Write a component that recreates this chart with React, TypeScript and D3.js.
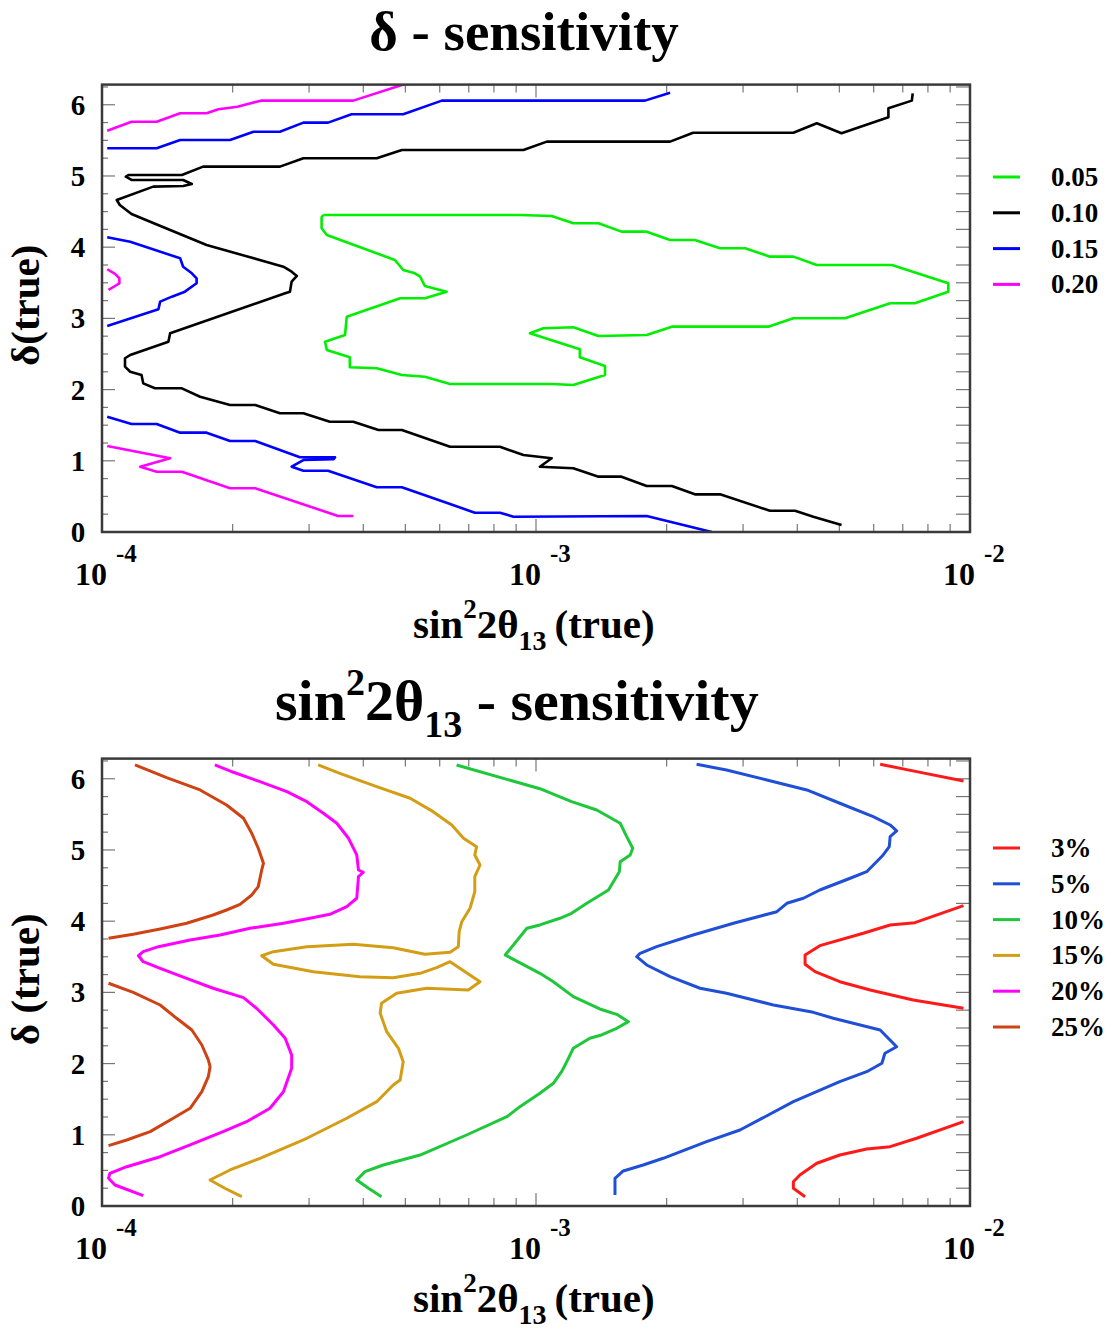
import React from "react";
import * as d3 from "d3";

// ---------- data: points are [log10(sin^2 2θ13), δ] ----------
// top panel: δ-sensitivity contours
const topLevels = ["0.05", "0.10", "0.15", "0.20"];
const topColors = ["#00ee00", "#000000", "#0000ff", "#ff00ff"];

const d005: [number, number][] = [
  [-3.490, 4.452], [-3.037, 4.452], [-2.964, 4.438], [-2.914, 4.336], [-2.856, 4.336], [-2.803, 4.218],
  [-2.745, 4.218], [-2.691, 4.101], [-2.634, 4.101], [-2.576, 3.985], [-2.518, 3.985], [-2.461, 3.867],
  [-2.407, 3.867], [-2.353, 3.750], [-2.180, 3.750], [-2.050, 3.493], [-2.050, 3.375], [-2.127, 3.212],
  [-2.184, 3.212], [-2.288, 3.001], [-2.407, 3.001], [-2.465, 2.884], [-2.687, 2.884], [-2.745, 2.767],
  [-2.856, 2.753], [-2.914, 2.875], [-2.983, 2.861], [-3.014, 2.791], [-2.899, 2.566], [-2.899, 2.453],
  [-2.841, 2.331], [-2.841, 2.205], [-2.914, 2.065], [-2.964, 2.079], [-3.198, 2.079], [-3.256, 2.181],
  [-3.309, 2.205], [-3.367, 2.299], [-3.429, 2.313], [-3.429, 2.453], [-3.482, 2.556], [-3.486, 2.673],
  [-3.440, 2.767], [-3.436, 3.024], [-3.313, 3.282], [-3.256, 3.282], [-3.206, 3.375], [-3.256, 3.455],
  [-3.267, 3.586], [-3.279, 3.633], [-3.306, 3.680], [-3.325, 3.820], [-3.482, 4.171], [-3.494, 4.265],
  [-3.494, 4.420], [-3.490, 4.452],
];

const d010: [number, number][] = [
  [-2.132, 6.161], [-2.134, 6.058], [-2.188, 5.951], [-2.188, 5.824], [-2.296, 5.600], [-2.353, 5.740],
  [-2.407, 5.608], [-2.638, 5.608], [-2.691, 5.482], [-2.975, 5.482], [-3.029, 5.365], [-3.309, 5.365],
  [-3.367, 5.249], [-3.536, 5.249], [-3.590, 5.131], [-3.767, 5.131], [-3.816, 5.014], [-3.939, 5.014],
  [-3.945, 4.990], [-3.932, 4.944], [-3.813, 4.944], [-3.793, 4.888], [-3.813, 4.860], [-3.882, 4.850],
  [-3.966, 4.663], [-3.959, 4.593], [-3.932, 4.466], [-3.889, 4.358], [-3.759, 4.031], [-3.582, 3.726],
  [-3.563, 3.656], [-3.551, 3.596], [-3.563, 3.516], [-3.567, 3.375], [-3.578, 3.352], [-3.843, 2.791],
  [-3.847, 2.673], [-3.935, 2.486], [-3.947, 2.440], [-3.947, 2.322], [-3.935, 2.251], [-3.909, 2.205],
  [-3.905, 2.088], [-3.878, 2.018], [-3.816, 2.018], [-3.774, 1.900], [-3.705, 1.784], [-3.647, 1.784],
  [-3.590, 1.667], [-3.536, 1.667], [-3.475, 1.549], [-3.421, 1.549], [-3.363, 1.433], [-3.309, 1.433],
  [-3.198, 1.198], [-3.083, 1.198], [-3.029, 1.081], [-2.964, 1.035], [-2.991, 0.917], [-2.914, 0.895],
  [-2.856, 0.777], [-2.803, 0.777], [-2.745, 0.646], [-2.687, 0.646], [-2.634, 0.529], [-2.576, 0.529],
  [-2.461, 0.299], [-2.403, 0.299], [-2.361, 0.215], [-2.296, 0.098],
];

const d015Top: [number, number][] = [
  [-3.988, 5.389], [-3.874, 5.389], [-3.820, 5.506], [-3.705, 5.506], [-3.651, 5.622], [-3.590, 5.622],
  [-3.536, 5.749], [-3.479, 5.749], [-3.425, 5.866], [-3.306, 5.866], [-3.217, 6.058], [-2.749, 6.058],
  [-2.691, 6.170],
];
const d015Mid: [number, number][] = [
  [-3.988, 4.139], [-3.935, 4.077], [-3.820, 3.844], [-3.813, 3.726], [-3.793, 3.633], [-3.782, 3.563],
  [-3.782, 3.493], [-3.809, 3.375], [-3.839, 3.305], [-3.866, 3.235], [-3.870, 3.128], [-3.988, 2.893],
];
const d015Bot: [number, number][] = [
  [-3.988, 1.619], [-3.932, 1.517], [-3.874, 1.517], [-3.820, 1.395], [-3.759, 1.395], [-3.705, 1.278],
  [-3.647, 1.278], [-3.544, 1.049], [-3.463, 1.049], [-3.467, 1.021], [-3.536, 1.011], [-3.563, 0.917],
  [-3.536, 0.861], [-3.479, 0.861], [-3.367, 0.628], [-3.309, 0.628], [-3.198, 0.393], [-3.141, 0.271],
  [-3.083, 0.271], [-3.052, 0.215], [-2.745, 0.225], [-2.595, 0.0],
];

const d020Top: [number, number][] = [
  [-3.988, 5.636], [-3.932, 5.762], [-3.874, 5.762], [-3.820, 5.881], [-3.759, 5.881], [-3.732, 5.937],
  [-3.688, 5.973], [-3.634, 6.058], [-3.421, 6.058], [-3.302, 6.292],
];
const d020Mid: [number, number][] = [
  [-3.988, 3.690], [-3.970, 3.624], [-3.960, 3.563], [-3.960, 3.493], [-3.970, 3.455], [-3.985, 3.399],
];
const d020Bot: [number, number][] = [
  [-3.988, 1.208], [-3.843, 1.035], [-3.912, 0.917], [-3.874, 0.847], [-3.816, 0.847], [-3.705, 0.614],
  [-3.647, 0.614], [-3.456, 0.225], [-3.421, 0.225],
];

// bottom panel: sin^2 2θ13-sensitivity contours
const botLevels = ["3%", "5%", "10%", "15%", "20%", "25%"];
const botColors = ["#ff1a1a", "#1f4fd6", "#1fc73a", "#d39e16", "#ff00ff", "#cf4214"];

const s3Top: [number, number][] = [[-2.207, 6.204], [-2.123, 6.100], [-2.015, 5.969]];
const s3Mid: [number, number][] = [
  [-2.015, 4.218], [-2.127, 3.979], [-2.184, 3.947], [-2.246, 3.830], [-2.346, 3.656], [-2.380, 3.525],
  [-2.380, 3.395], [-2.357, 3.291], [-2.300, 3.150], [-2.230, 3.034], [-2.131, 2.893], [-2.015, 2.777],
];
const s3Bot: [number, number][] = [
  [-2.015, 1.184], [-2.123, 0.951], [-2.184, 0.833], [-2.238, 0.801], [-2.300, 0.716], [-2.353, 0.600],
  [-2.392, 0.435], [-2.407, 0.341], [-2.407, 0.249], [-2.380, 0.131],
];
const s5: [number, number][] = [
  [-2.630, 6.204], [-2.561, 6.124], [-2.468, 5.983], [-2.376, 5.843], [-2.300, 5.656], [-2.223, 5.468],
  [-2.184, 5.351], [-2.169, 5.267], [-2.184, 5.187], [-2.186, 5.046], [-2.200, 4.930], [-2.238, 4.695],
  [-2.276, 4.603], [-2.346, 4.438], [-2.384, 4.322], [-2.422, 4.251], [-2.445, 4.133], [-2.545, 3.971],
  [-2.638, 3.806], [-2.722, 3.642], [-2.760, 3.549], [-2.768, 3.501], [-2.745, 3.385], [-2.691, 3.221],
  [-2.622, 3.058], [-2.561, 2.987], [-2.453, 2.823], [-2.361, 2.720], [-2.315, 2.636], [-2.207, 2.472],
  [-2.169, 2.237], [-2.196, 2.145], [-2.203, 2.004], [-2.238, 1.886], [-2.300, 1.746], [-2.407, 1.465],
  [-2.530, 1.067], [-2.607, 0.903], [-2.707, 0.670], [-2.753, 0.576], [-2.799, 0.492], [-2.818, 0.389],
  [-2.818, 0.154],
];
const s10: [number, number][] = [
  [-3.183, 6.194], [-2.991, 5.860], [-2.918, 5.678], [-2.860, 5.562], [-2.806, 5.375],
  [-2.791, 5.187], [-2.777, 5.024], [-2.783, 4.930], [-2.806, 4.836], [-2.808, 4.695], [-2.833, 4.438],
  [-2.883, 4.251], [-2.918, 4.111], [-2.945, 4.041], [-2.991, 3.947], [-3.021, 3.900], [-3.071, 3.525],
  [-2.991, 3.268], [-2.960, 3.150], [-2.914, 2.940], [-2.853, 2.767], [-2.814, 2.692], [-2.787, 2.589],
  [-2.814, 2.496], [-2.849, 2.402], [-2.876, 2.355], [-2.914, 2.215], [-2.929, 2.027], [-2.941, 1.886],
  [-2.960, 1.723], [-2.991, 1.583], [-3.037, 1.395], [-3.067, 1.254], [-3.160, 0.997], [-3.267, 0.716],
  [-3.352, 0.576], [-3.394, 0.482], [-3.413, 0.365], [-3.386, 0.249], [-3.356, 0.131],
];
const s15: [number, number][] = [
  [-3.502, 6.194], [-3.452, 6.077], [-3.367, 5.889], [-3.290, 5.726], [-3.237, 5.538], [-3.194, 5.351],
  [-3.167, 5.164], [-3.137, 5.046], [-3.141, 4.930], [-3.129, 4.789], [-3.141, 4.625], [-3.141, 4.414],
  [-3.152, 4.181], [-3.171, 3.993], [-3.177, 3.853], [-3.179, 3.642], [-3.198, 3.563], [-3.256, 3.535],
  [-3.329, 3.628], [-3.421, 3.676], [-3.528, 3.642], [-3.605, 3.572], [-3.632, 3.515], [-3.605, 3.395],
  [-3.513, 3.291], [-3.406, 3.221], [-3.329, 3.206], [-3.267, 3.268], [-3.229, 3.347], [-3.198, 3.431],
  [-3.129, 3.150], [-3.156, 3.034], [-3.252, 3.058], [-3.321, 2.987], [-3.356, 2.847], [-3.359, 2.706],
  [-3.344, 2.448], [-3.317, 2.215], [-3.306, 2.027], [-3.313, 1.770], [-3.329, 1.699], [-3.367, 1.465],
  [-3.436, 1.232], [-3.528, 0.951], [-3.636, 0.670], [-3.705, 0.506], [-3.751, 0.365], [-3.717, 0.249],
  [-3.678, 0.131],
];
const s20: [number, number][] = [
  [-3.740, 6.194], [-3.697, 6.091], [-3.636, 5.959], [-3.574, 5.819], [-3.528, 5.678], [-3.490, 5.515],
  [-3.459, 5.375], [-3.432, 5.164], [-3.413, 4.930], [-3.409, 4.719], [-3.398, 4.687], [-3.409, 4.625],
  [-3.413, 4.322], [-3.436, 4.204], [-3.475, 4.097], [-3.521, 4.041], [-3.582, 3.971], [-3.659, 3.900],
  [-3.728, 3.806], [-3.797, 3.736], [-3.870, 3.642], [-3.905, 3.572], [-3.916, 3.515], [-3.905, 3.431],
  [-3.866, 3.338], [-3.805, 3.198], [-3.744, 3.058], [-3.674, 2.926], [-3.644, 2.777], [-3.605, 2.542],
  [-3.578, 2.355], [-3.563, 2.121], [-3.563, 1.934], [-3.582, 1.605], [-3.613, 1.372], [-3.667, 1.184],
  [-3.721, 1.044], [-3.797, 0.857], [-3.866, 0.692], [-3.943, 0.552], [-3.982, 0.459], [-3.985, 0.389],
  [-3.970, 0.295], [-3.905, 0.145],
];
const s25Top: [number, number][] = [
  [-3.924, 6.194], [-3.851, 6.015], [-3.774, 5.843], [-3.713, 5.632], [-3.674, 5.445], [-3.655, 5.235],
  [-3.640, 5.024], [-3.628, 4.813], [-3.632, 4.719], [-3.640, 4.485], [-3.655, 4.368], [-3.682, 4.237],
  [-3.713, 4.157], [-3.744, 4.087], [-3.805, 3.971], [-3.866, 3.890], [-3.928, 3.816], [-3.985, 3.760],
];
const s25Bot: [number, number][] = [
  [-3.985, 3.128], [-3.928, 3.001], [-3.866, 2.823], [-3.828, 2.636], [-3.793, 2.472], [-3.770, 2.261],
  [-3.755, 2.051], [-3.751, 1.956], [-3.755, 1.816], [-3.770, 1.605], [-3.797, 1.372], [-3.836, 1.232],
  [-3.889, 1.044], [-3.943, 0.927], [-3.985, 0.847],
];

const yTicks = [0, 1, 2, 3, 4, 5, 6];
const xDecades = [-4, -3, -2];

const topSeries = [
  { c: 0, data: d005 }, { c: 1, data: d010 }, { c: 2, data: d015Top }, { c: 2, data: d015Mid },
  { c: 2, data: d015Bot }, { c: 3, data: d020Top }, { c: 3, data: d020Mid }, { c: 3, data: d020Bot },
];
const botSeries = [
  { c: 0, data: s3Top }, { c: 0, data: s3Mid }, { c: 0, data: s3Bot }, { c: 1, data: s5 },
  { c: 2, data: s10 }, { c: 3, data: s15 }, { c: 4, data: s20 }, { c: 5, data: s25Top }, { c: 5, data: s25Bot },
];

const FONT = "'Liberation Serif', 'Times New Roman', serif";
const L = 102, R = 970;

function Panel({ top, bottom, series, colors, levels, legendY0, width, id, yTitle }: any) {
  const x = d3.scaleLog().domain([1e-4, 1e-2]).range([L, R]);
  const y = d3.scaleLinear().domain([0, 2 * Math.PI]).range([bottom, top]);
  const line = d3.line<[number, number]>().x((d) => x(Math.pow(10, d[0]))).y((d) => y(d[1]));
  const minorY = d3.range(0, 6.3, 0.25);
  const minorX: number[] = [];
  for (const e of [-4, -3]) for (let k = 2; k <= 9; k++) minorX.push(k * Math.pow(10, e));
  const frameCol = "#3a3a3a";
  const tickCol = "#777";
  return (
    <g>
      <defs>
        <clipPath id={id}>
          <rect x={L} y={top} width={R - L} height={bottom - top} />
        </clipPath>
      </defs>
      {minorY.map((v: number) => {
        const major = Math.abs(v - Math.round(v)) < 1e-6;
        const len = major ? 13 : 6;
        return (
          <g key={"y" + v}>
            <line x1={L} x2={L + len} y1={y(v)} y2={y(v)} stroke={tickCol} strokeWidth={1.2} />
            <line x1={R} x2={R - 14} y1={y(v)} y2={y(v)} stroke={tickCol} strokeWidth={1.2} />
          </g>
        );
      })}
      {minorX.map((v) => (
        <g key={"x" + v}>
          <line x1={x(v)} x2={x(v)} y1={bottom} y2={bottom - 8} stroke={tickCol} strokeWidth={1.2} />
          <line x1={x(v)} x2={x(v)} y1={top} y2={top + 8} stroke={tickCol} strokeWidth={1.2} />
        </g>
      ))}
      {xDecades.map((e) => (
        <g key={"d" + e}>
          <line x1={x(Math.pow(10, e))} x2={x(Math.pow(10, e))} y1={bottom} y2={bottom - 13} stroke={tickCol} strokeWidth={1.2} />
          <line x1={x(Math.pow(10, e))} x2={x(Math.pow(10, e))} y1={top} y2={top + 13} stroke={tickCol} strokeWidth={1.2} />
        </g>
      ))}
      <g clipPath={`url(#${id})`}>
        {series.map((s: any, i: number) => (
          <path key={i} d={line(s.data) || ""} fill="none" stroke={colors[s.c]} strokeWidth={width} strokeLinejoin="round" strokeLinecap="butt" />
        ))}
      </g>
      <rect x={L} y={top} width={R - L} height={bottom - top} fill="none" stroke={frameCol} strokeWidth={2.5} />
      {yTicks.map((v) => (
        <text key={"yl" + v} x={78} y={y(v) + 10} textAnchor="middle" fontFamily={FONT} fontWeight="bold" fontSize={29}>
          {v}
        </text>
      ))}
      {xDecades.map((e) => (
        <text key={"xl" + e} x={x(Math.pow(10, e)) - 27} y={bottom + 53} fontFamily={FONT} fontWeight="bold" fontSize={32}>
          10
          <tspan dx={9} dy={-23} fontSize={25}>{String(e)}</tspan>
        </text>
      ))}
      <text x={413} y={bottom + 106} fontFamily={FONT} fontWeight="bold" fontSize={41}>
        sin
        <tspan dy={-20} fontSize={27}>2</tspan>
        <tspan dy={20}>2θ</tspan>
        <tspan dy={12} fontSize={28}>13</tspan>
        <tspan dy={-12} dx={8}>(true)</tspan>
      </text>
      <text transform={`translate(39, ${(top + bottom) / 2 - 3}) rotate(-90)`} textAnchor="middle" fontFamily={FONT} fontWeight="bold" fontSize={41}>
        {yTitle}
      </text>
      {levels.map((lab: string, i: number) => (
        <g key={"lg" + i}>
          <line x1={993} x2={1020} y1={legendY0 + i * 35.8} y2={legendY0 + i * 35.8} stroke={colors[i]} strokeWidth={3} />
          <text x={1051} y={legendY0 + i * 35.8 + 9} fontFamily={FONT} fontWeight="bold" fontSize={27}>
            {lab}
          </text>
        </g>
      ))}
    </g>
  );
}

export default function App() {
  return (
    <svg width={1112} height={1329} style={{ position: "absolute", left: 0, top: 0, background: "#fff" }}>
      <rect x={0} y={0} width={1112} height={1329} fill="#fff" />
      <text x={524} y={50} textAnchor="middle" fontFamily={FONT} fontWeight="bold" fontSize={55}>
        δ - sensitivity
      </text>
      <Panel id="clipTop" top={84.6} bottom={532} series={topSeries} colors={topColors} levels={topLevels} legendY0={177} width={2.6} yTitle="δ(true)" />
      <text x={275} y={720} fontFamily={FONT} fontWeight="bold" fontSize={58}>
        sin
        <tspan dy={-25} fontSize={38}>2</tspan>
        <tspan dy={25}>2θ</tspan>
        <tspan dy={17} fontSize={38}>13</tspan>
        <tspan dy={-17}> - sensitivity</tspan>
      </text>
      <Panel id="clipBot" top={758.6} bottom={1206} series={botSeries} colors={botColors} levels={botLevels} legendY0={848} width={3} yTitle="δ (true)" />
    </svg>
  );
}
